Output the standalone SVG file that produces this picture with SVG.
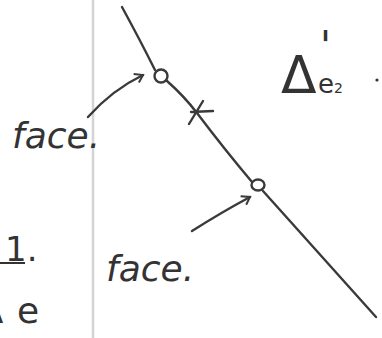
<svg xmlns="http://www.w3.org/2000/svg" width="382" height="338" viewBox="0 0 382 338">
<style>
.ink{fill:none;stroke:#3a3a3a;stroke-width:2.4;stroke-linecap:round;stroke-linejoin:round}
.hand{font-family:"DejaVu Sans",sans-serif;fill:#333}
.it{font-style:italic}
</style>
<defs>
<marker id="ah" markerWidth="12" markerHeight="12" refX="9" refY="6" orient="auto" markerUnits="userSpaceOnUse">
<path d="M1,1 L9,6 L2,11" fill="none" stroke="#3a3a3a" stroke-width="2"/>
</marker>
</defs>
<rect width="382" height="338" fill="#fff"/>
<line x1="93" y1="0" x2="93" y2="338" stroke="#d4d4d4" stroke-width="2.5"/>
<g id="connectors">
<path class="ink" d="M122,7 Q140,40 155,70"/>
<path class="ink" d="M167,81 Q184,96 197,113 Q225,150 252,182"/>
<path class="ink" d="M263,191 L376,317"/>
<path class="ink" d="M88,117 Q112,90 143,75" marker-end="url(#ah)"/>
<path class="ink" d="M192,231 Q222,212 250,197" marker-end="url(#ah)"/>
</g>
<g id="node-top">
<circle class="ink" cx="161" cy="76" r="6.5"/>
</g>
<g id="node-bottom">
<ellipse class="ink" cx="258" cy="185" rx="6.5" ry="5.5"/>
</g>
<g id="cross">
<path class="ink" d="M189,124 L203,101 M191,112 L213,111"/>
</g>
<g id="label-face-top">
<text class="hand it" x="12" y="148" font-size="36">face.</text>
</g>
<g id="label-face-bottom">
<text class="hand it" x="106" y="281" font-size="36">face.</text>
</g>
<g id="label-delta">
<text class="hand" x="281" y="93" font-size="52">Δ</text>
<text class="hand" x="318" y="93" font-size="26">e<tspan font-size="14">2</tspan></text>
<text class="hand" x="320" y="60" font-size="40">'</text>
<circle cx="377" cy="80" r="1.6" fill="#333"/>
</g>
<g id="label-fraction">
<text class="hand" x="5" y="261" font-size="34">1.</text>
<line x1="0" y1="263" x2="25" y2="263" stroke="#333" stroke-width="2"/>
<text class="hand" x="-24" y="323" font-size="40">Δ<tspan x="17" font-size="36">e</tspan></text>
</g>
</svg>
